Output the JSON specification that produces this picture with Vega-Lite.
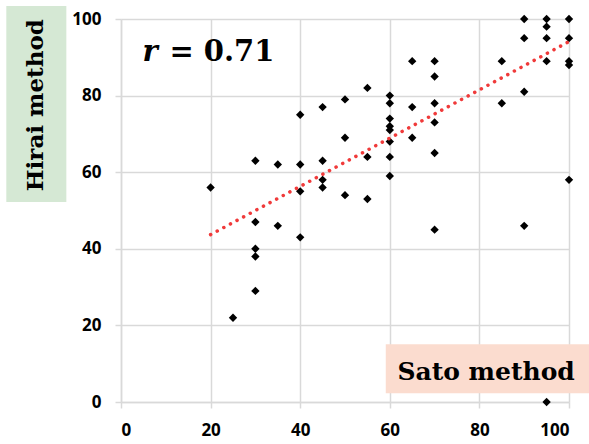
{
  "$schema": "https://vega.github.io/schema/vega-lite/v6.json",
  "width": 448,
  "height": 383,
  "autosize": {"type": "none"},
  "padding": {"left": 121, "top": 19, "right": 20, "bottom": 42},
  "background": "white",
  "config": {
    "view": {"stroke": null},
    "axis": {
      "gridColor": "#d9d9d9",
      "gridWidth": 1.5,
      "domainColor": "#d9d9d9",
      "domainWidth": 1.5,
      "tickColor": "#d9d9d9",
      "tickWidth": 1.5,
      "tickSize": 6,
      "labelFont": "Open Sans",
      "labelFontWeight": "bold",
      "labelFontSize": 17,
      "labelColor": "#000000",
      "title": null
    }
  },
  "datasets": {
    "points": [
      {"sato": 20, "hirai": 56},
      {"sato": 25, "hirai": 22},
      {"sato": 30, "hirai": 63}, {"sato": 30, "hirai": 47}, {"sato": 30, "hirai": 40}, {"sato": 30, "hirai": 38}, {"sato": 30, "hirai": 29},
      {"sato": 35, "hirai": 62}, {"sato": 35, "hirai": 46},
      {"sato": 40, "hirai": 75}, {"sato": 40, "hirai": 62}, {"sato": 40, "hirai": 55}, {"sato": 40, "hirai": 43},
      {"sato": 45, "hirai": 77}, {"sato": 45, "hirai": 63}, {"sato": 45, "hirai": 58}, {"sato": 45, "hirai": 56},
      {"sato": 50, "hirai": 79}, {"sato": 50, "hirai": 69}, {"sato": 50, "hirai": 54},
      {"sato": 55, "hirai": 82}, {"sato": 55, "hirai": 64}, {"sato": 55, "hirai": 53},
      {"sato": 60, "hirai": 80}, {"sato": 60, "hirai": 78}, {"sato": 60, "hirai": 74}, {"sato": 60, "hirai": 72}, {"sato": 60, "hirai": 71}, {"sato": 60, "hirai": 68}, {"sato": 60, "hirai": 64}, {"sato": 60, "hirai": 59},
      {"sato": 65, "hirai": 89}, {"sato": 65, "hirai": 77}, {"sato": 65, "hirai": 69},
      {"sato": 70, "hirai": 89}, {"sato": 70, "hirai": 85}, {"sato": 70, "hirai": 78}, {"sato": 70, "hirai": 73}, {"sato": 70, "hirai": 65}, {"sato": 70, "hirai": 45},
      {"sato": 85, "hirai": 89}, {"sato": 85, "hirai": 78},
      {"sato": 90, "hirai": 100}, {"sato": 90, "hirai": 95}, {"sato": 90, "hirai": 81}, {"sato": 90, "hirai": 46},
      {"sato": 95, "hirai": 100}, {"sato": 95, "hirai": 98}, {"sato": 95, "hirai": 95}, {"sato": 95, "hirai": 89}, {"sato": 95, "hirai": 0},
      {"sato": 100, "hirai": 100}, {"sato": 100, "hirai": 95}, {"sato": 100, "hirai": 89}, {"sato": 100, "hirai": 88}, {"sato": 100, "hirai": 58}
    ],
    "trend": [
      {"sato": 20, "hirai": 43.7},
      {"sato": 100, "hirai": 94.1}
    ]
  },
  "layer": [
    {
      "data": {"name": "points"},
      "mark": {"type": "point", "shape": "diamond", "filled": true, "color": "#000000", "opacity": 1, "size": 70},
      "encoding": {
        "x": {"field": "sato", "type": "quantitative", "scale": {"domain": [0, 100], "nice": false},
              "axis": {"values": [0, 20, 40, 60, 80, 100], "grid": true, "labelPadding": 14}},
        "y": {"field": "hirai", "type": "quantitative", "scale": {"domain": [0, 100], "nice": false},
              "axis": {"values": [0, 20, 40, 60, 80, 100], "grid": true, "labelPadding": 14}}
      }
    },
    {
      "data": {"values": [{"box": "sato"}]},
      "mark": {"type": "rect", "color": "#fbdccf", "opacity": 1},
      "encoding": {
        "x": {"datum": 59.1, "type": "quantitative"},
        "x2": {"datum": 104.5},
        "y": {"datum": 15.1, "type": "quantitative"},
        "y2": {"datum": 2.3}
      }
    },
    {
      "data": {"values": [{"box": "hirai"}]},
      "mark": {"type": "rect", "color": "#d5e8d4", "opacity": 1},
      "encoding": {
        "x": {"datum": -25.6, "type": "quantitative"},
        "x2": {"datum": -12.2},
        "y": {"datum": 103.4, "type": "quantitative"},
        "y2": {"datum": 52.2}
      }
    },
    {
      "data": {"name": "trend"},
      "mark": {"type": "line", "color": "#f03a3a", "strokeWidth": 3.5, "strokeCap": "round", "strokeDash": [0.1, 7.4]},
      "encoding": {
        "x": {"field": "sato", "type": "quantitative"},
        "y": {"field": "hirai", "type": "quantitative"}
      }
    },
    {
      "data": {"values": [{"label": "Sato method"}]},
      "mark": {"type": "text", "font": "DejaVu Serif", "fontWeight": "bold", "fontSize": 25, "color": "#000000", "align": "center", "baseline": "alphabetic"},
      "encoding": {
        "x": {"datum": 81.5, "type": "quantitative"},
        "y": {"datum": 5.7, "type": "quantitative"},
        "text": {"field": "label"}
      }
    },
    {
      "data": {"values": [{"label": "Hirai method"}]},
      "mark": {"type": "text", "font": "DejaVu Serif", "fontWeight": "bold", "fontSize": 23, "color": "#000000", "align": "center", "baseline": "middle", "angle": 270},
      "encoding": {
        "x": {"datum": -18.9, "type": "quantitative"},
        "y": {"datum": 77.5, "type": "quantitative"},
        "text": {"field": "label"}
      }
    },
    {
      "data": {"values": [{"label": "r"}]},
      "mark": {"type": "text", "font": "DejaVu Serif", "fontWeight": "bold", "fontStyle": "italic", "fontSize": 29, "color": "#000000", "align": "left", "baseline": "alphabetic"},
      "encoding": {
        "x": {"datum": 4.8, "type": "quantitative"},
        "y": {"datum": 89, "type": "quantitative"},
        "text": {"field": "label"}
      }
    },
    {
      "data": {"values": [{"label": "= 0.71"}]},
      "mark": {"type": "text", "font": "DejaVu Serif", "fontWeight": "bold", "fontSize": 29, "color": "#000000", "align": "left", "baseline": "alphabetic"},
      "encoding": {
        "x": {"datum": 10.8, "type": "quantitative"},
        "y": {"datum": 89, "type": "quantitative"},
        "text": {"field": "label"}
      }
    }
  ]
}
